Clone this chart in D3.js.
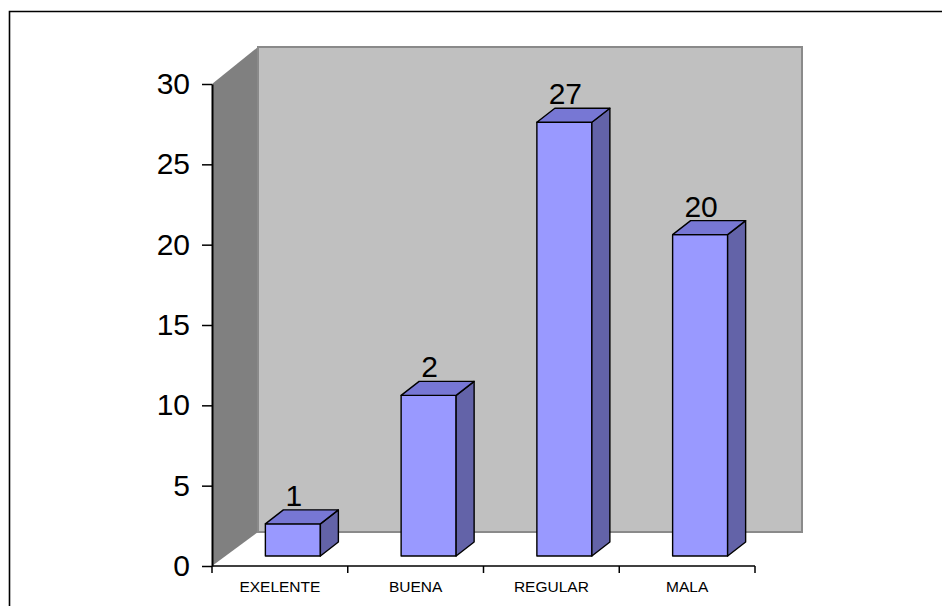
<!DOCTYPE html>
<html>
<head>
<meta charset="utf-8">
<script src="https://cdn.jsdelivr.net/npm/d3@7"></script>
<style>
  html, body { margin: 0; padding: 0; background: #fff; }
  svg { display: block; font-family: Arial, "Liberation Sans", sans-serif; }
</style>
</head>
<body>
<svg id="chart" width="942" height="606"></svg>
<script>
// Categories and values of the chart
const categories = ["EXELENTE", "BUENA", "REGULAR", "MALA"];
const values = [2, 10, 27, 20];
const valueLabels = ["1", "2", "27", "20"];
const yTicks = [0, 5, 10, 15, 20, 25, 30];

(function draw() {
  const svg = d3.select("#chart");

  // Plot geometry
  const plotLeft = 212, plotRight = 755, plotBottom = 566, plotTop = 84;
  const depthX = 46, depthYTop = 37, depthYBottom = 34; // back-wall offset
  const barShiftX = 13, barShiftY = 10;                  // bar placement in depth
  const barDepthX = 18, barDepthY = 14;                  // bar thickness in depth
  const barWidth = 55;

  const x = d3.scaleBand().domain(categories).range([plotLeft, plotRight]);
  const y = d3.scaleLinear().domain([0, 30]).range([plotBottom, plotTop]);
  const pts = a => a.map(p => p.join(",")).join(" ");

  // Outer frame
  svg.append("path")
    .attr("d", "M9.5,606 L9.5,11.5 L942,11.5")
    .attr("fill", "none").attr("stroke", "#000").attr("stroke-width", 1.6);

  // Side wall
  svg.append("polygon")
    .attr("points", pts([
      [plotLeft, y(30)], [plotLeft + depthX, y(30) - depthYTop],
      [plotLeft + depthX, y(0) - depthYBottom], [plotLeft, y(0)]
    ]))
    .attr("fill", "#808080");

  // Back wall
  svg.append("rect")
    .attr("x", plotLeft + depthX).attr("y", y(30) - depthYTop)
    .attr("width", 802 - (plotLeft + depthX))
    .attr("height", (y(0) - depthYBottom) - (y(30) - depthYTop))
    .attr("fill", "#c0c0c0").attr("stroke", "#8a8a8a").attr("stroke-width", 2);

  // Bars
  const bars = svg.append("g").selectAll("g").data(categories).join("g");
  bars.each(function(c, i) {
    const g = d3.select(this);
    const cx = x(c) + x.bandwidth() / 2 + barShiftX;
    const x0 = cx - barWidth / 2, x1 = cx + barWidth / 2;
    const yb = y(0) - barShiftY, yt = y(values[i]) - barShiftY;
    // front face
    g.append("polygon")
      .attr("points", pts([[x0, yt], [x1, yt], [x1, yb], [x0, yb]]))
      .attr("fill", "#9999ff").attr("stroke", "#000").attr("stroke-width", 1.4)
      .attr("stroke-linejoin", "round");
    // side face
    g.append("polygon")
      .attr("points", pts([[x1, yt], [x1 + barDepthX, yt - barDepthY],
                           [x1 + barDepthX, yb - barDepthY], [x1, yb]]))
      .attr("fill", "#6363a8").attr("stroke", "#000").attr("stroke-width", 1.4)
      .attr("stroke-linejoin", "round");
    // top face
    g.append("polygon")
      .attr("points", pts([[x0, yt], [x0 + barDepthX, yt - barDepthY],
                           [x1 + barDepthX, yt - barDepthY], [x1, yt]]))
      .attr("fill", "#7777d4").attr("stroke", "#000").attr("stroke-width", 1.4)
      .attr("stroke-linejoin", "round");
    // value label
    g.append("text")
      .attr("x", cx + 1).attr("y", yt - barDepthY - 4)
      .attr("text-anchor", "middle")
      .attr("font-size", 30).attr("fill", "#000")
      .text(valueLabels[i]);
  });

  // Y axis
  const yAxis = d3.axisLeft(y).tickValues(yTicks).tickSize(10).tickPadding(12).tickSizeOuter(0);
  const gy = svg.append("g").attr("transform", `translate(${plotLeft},0)`).call(yAxis);
  gy.select(".domain").attr("stroke", "#000").attr("stroke-width", 2);
  gy.selectAll(".tick line").attr("stroke", "#000").attr("stroke-width", 1.5);
  gy.selectAll(".tick text").attr("font-size", 30).attr("fill", "#000")
    .attr("font-family", "Arial, 'Liberation Sans', sans-serif");

  // X axis with ticks between categories
  const gx = svg.append("g").attr("transform", `translate(0,${plotBottom})`);
  gx.append("line").attr("x1", plotLeft).attr("x2", plotRight)
    .attr("stroke", "#000").attr("stroke-width", 1.5);
  const boundaries = categories.map(c => x(c))
    .concat([x(categories[categories.length - 1]) + x.bandwidth()]);
  gx.selectAll("line.tk").data(boundaries).join("line").attr("class", "tk")
    .attr("x1", d => d).attr("x2", d => d).attr("y1", 0).attr("y2", 7)
    .attr("stroke", "#000").attr("stroke-width", 1.5);
  gx.selectAll("text").data(categories).join("text")
    .attr("x", d => x(d) + x.bandwidth() / 2)
    .attr("y", 26)
    .attr("text-anchor", "middle")
    .attr("font-size", 15.5).attr("fill", "#000")
    .text(d => d);
})();
</script>
</body>
</html>
